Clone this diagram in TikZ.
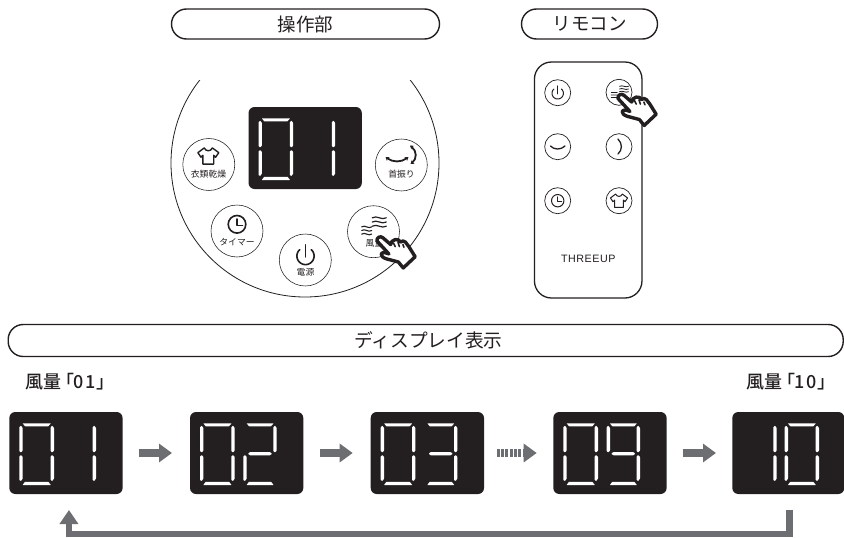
\documentclass[tikz,border=0pt]{standalone}
\usepackage{fontspec}
\setmainfont{Noto Sans CJK JP}
\newfontfamily\paltfont[RawFeature=+palt]{Noto Sans CJK JP Medium}
\newfontfamily\remfont[LetterSpace=5]{Liberation Sans}
\usetikzlibrary{arrows.meta,calc}
\definecolor{ink}{HTML}{231F20}
\definecolor{arrgray}{HTML}{6D6E71}
\newcommand{\fsz}[1]{\fontsize{#1}{#1}\selectfont}
\tikzset{
  pill/.style={draw=ink,line width=1.4pt,rounded corners=15pt,fill=white,inner sep=0pt,outer sep=0pt,text=ink,font=\fsz{18.5}},
  dispbox/.style={fill=ink,rounded corners=6pt,minimum width=113.3pt,minimum height=82pt,inner sep=0pt,outer sep=0pt,anchor=north west},
  panelbtn/.style={circle,draw=ink,line width=0.55pt,fill=white,minimum size=52pt,inner sep=0pt,outer sep=0pt},
  rembtn/.style={circle,draw=ink,line width=0.7pt,fill=white,minimum size=26pt,inner sep=0pt,outer sep=0pt},
  btnlabel/.style={text=ink,font=\fsz{8.8},inner sep=0pt},
  headlabel/.style={text=ink,font=\paltfont\fsz{18},inner sep=0pt},
  flowarrow/.style={draw=arrgray,line width=8.5pt,-{Triangle[length=13pt,width=18pt]}},
  looparrow/.style={draw=arrgray,line width=6.5pt,-{Triangle[length=14pt,width=18pt]}},
  icon/.style={draw=ink,line width=#1,line cap=round,line join=round},
  icon/.default=1.5pt,
  segfill/.style={fill=white,rounded corners=0.4pt}
}
% seven-segment pieces, #1=left x, #2=right x (relative to display corner)
\newcommand{\segA}[2]{\fill[segfill] ({#1+1.6},11.3)--({#2-1.4},11.3)--({#2-4},14.3)--({#1+4},14.3)--cycle;}
\newcommand{\segD}[2]{\fill[segfill] ({#1+1.6},73)--({#2-1.4},73)--({#2-4},69.8)--({#1+4},69.8)--cycle;}
\newcommand{\segG}[2]{\fill[segfill] ({#1+3},41.7)--({#1+5},40.1)--({#2-5},40.1)--({#2-3},41.7)--({#2-5},43.3)--({#1+5},43.3)--cycle;}
\newcommand{\segU}[1]{\fill[segfill] (#1,13.7)--({#1+1.7},16)--({#1+1.7},38.5)--(#1,40.5)--({#1-1.7},39)--({#1-1.7},15.2)--cycle;}
\newcommand{\segL}[1]{\fill[segfill] (#1,43)--({#1+1.7},45)--({#1+1.7},66.5)--(#1,69)--({#1-1.7},68)--({#1-1.7},44.5)--cycle;}
\newcommand{\digZero}[2]{\segA{#1}{#2}\segD{#1}{#2}\segU{#1}\segL{#1}\segU{#2}\segL{#2}}
\newcommand{\digOne}[1]{\segU{#1}\segL{#1}}
\newcommand{\digTwo}[2]{\segA{#1}{#2}\segD{#1}{#2}\segG{#1}{#2}\segU{#2}\segL{#1}}
\newcommand{\digThree}[2]{\segA{#1}{#2}\segD{#1}{#2}\segG{#1}{#2}\segU{#2}\segL{#2}}
\newcommand{\digNine}[2]{\segA{#1}{#2}\segD{#1}{#2}\segG{#1}{#2}\segU{#1}\segU{#2}\segL{#2}}
% icons
\newcommand{\powericon}[4]{%
  \draw[icon=#4] plot[smooth,samples=30,domain=132:408] ({#1+#3*cos(\x)},{#2-#3*sin(\x)});
  \draw[icon=#4] (#1,{#2-1.3*#3}) -- (#1,{#2+0.1*#3});}
\newcommand{\clockicon}[4]{%
  \draw[icon=#4] (#1,#2) circle[radius=#3];
  \draw[icon=#4] ({#1-0.02*#3},{#2-0.6*#3}) -- ({#1-0.02*#3},{#2+0.12*#3}) -- ({#1+0.62*#3},{#2+0.12*#3});}
\newcommand{\shirticon}[4]{%
  \draw[icon=#4,shift={(#1,#2)},scale=#3] (-4.3,-8.5) .. controls (-2.5,-4.5) and (2.5,-4.5) .. (4.3,-8.5) -- (11,-3.5) -- (7.7,1.3) -- (5.7,-0.7) -- (5.7,8.5) -- (-5.7,8.5) -- (-5.7,-0.7) -- (-7.7,1.3) -- (-11,-3.5) -- cycle;}
\newcommand{\wavelines}[6]{% cx cy w gap lw amp
  \foreach \yy in {-1,0,1}{
    \draw[icon=#5] ({#1-#3/2},{#2+\yy*#4}) .. controls ({#1-#3/6},{#2+\yy*#4-#6}) and ({#1+#3/6},{#2+\yy*#4+#6}) .. ({#1+#3/2},{#2+\yy*#4});
  }}
% hand: #1,#2 = origin; coordinates are in 1/3 px
\newcommand{\handicon}[2]{%
  \begin{scope}[shift={(#1,#2)},scale=0.35]
    \draw[draw=ink,fill=white,line width=3.4pt,line join=round,line cap=round]
      (10,50) .. controls (8,40) and (20,34) .. (27,41) -- (49,60) -- (53,51)
      .. controls (57,46) and (66,44) .. (71,47) -- (77,53) .. controls (81,49) and (87,49) .. (91,53)
      -- (101,66) -- (119,95) -- (85,127) -- (71,110) -- (37,101)
      .. controls (27,98) and (21,92) .. (22,87) .. controls (24,82) and (34,82) .. (44,87) -- cycle;
    \draw[draw=ink,line width=1.6pt,line cap=round] (57,56)--(62,66) (70,54)--(74,66) (84,60)--(87,68);
  \end{scope}}
\begin{document}
\begin{tikzpicture}[x=1pt,y=-1pt]
\useasboundingbox (0,0) rectangle (844,538);
% headers
\node[pill,minimum width=268pt,minimum height=30pt] (hdrPanel) at (305.5,24) {操作部};
\node[pill,minimum width=136pt,minimum height=30pt] (hdrRemote) at (589.5,24) {リモコン};
\begin{scope}
  \clip (0,315) rectangle (844,365);
  \node[pill,minimum width=835pt,minimum height=32pt] (hdrDisplay) at (425.7,340.5) {\hspace{0pt}};
\end{scope}
\node[text=ink,font=\fsz{18.7},inner sep=0pt] (hdrDisplayText) at (428.5,340) {ディスプレイ表示};
% panel outline
\begin{scope}
  \clip (150,80) rectangle (460,310);
  \draw[ink,line width=0.8pt] (305,163) circle[radius=134];
\end{scope}
% panel display
\node[dispbox] (dMain) at (248.5,107) {};
\begin{scope}[shift={(dMain.north west)}]
  \digZero{11.7}{43}\digOne{85}
\end{scope}
% panel buttons
\node[panelbtn] (bCloth) at (208.8,164.5) {};
\node[panelbtn] (bSwing) at (401.3,165) {};
\node[panelbtn] (bTimer) at (237,231) {};
\node[panelbtn] (bPower) at (305.3,260) {};
\node[panelbtn] (bWind) at (373.5,231.7) {};
\shirticon{208.3}{156}{0.95}{1.4pt}
\node[btnlabel] (lCloth) at (208.5,174) {衣類乾燥};
\draw[icon=1.8pt,{Stealth[length=3.5pt,width=4.5pt]}-{Stealth[length=3.5pt,width=4.5pt]}] (385.5,157) .. controls (393,162.5) and (401,162.5) .. (408.5,157);
\draw[icon=1.8pt,{Stealth[length=3.5pt,width=4.5pt]}-{Stealth[length=3.5pt,width=4.5pt]}] (410,145.5) .. controls (417,151) and (417,159) .. (410.5,164);
\node[btnlabel] (lSwing) at (401.5,174) {首振り};
\clockicon{237}{224.3}{8.8}{1.6pt}
\node[btnlabel] (lTimer) at (237,242.5) {タイマー};
\powericon{305.5}{256}{8.6}{1.6pt}
\node[btnlabel] (lPower) at (305.5,271.7) {電源};
\wavelines{366.7}{230.5}{10}{3.6}{1.1pt}{2.5}
\wavelines{379.3}{222}{14}{4.2}{1.2pt}{3}
\node[btnlabel] (lWind) at (374.5,243) {風量};
\handicon{373.5}{223.5}
% remote
\node[draw=ink,line width=1.3pt,rounded corners=17pt,minimum width=107.5pt,minimum height=236pt,inner sep=0pt,outer sep=0pt,fill=white] (remote) at (588.2,180) {};
\node[rembtn] (r1) at (557.7,92.7) {};
\node[rembtn] (r2) at (619,92.3) {};
\node[rembtn] (r3) at (557.7,146.7) {};
\node[rembtn] (r4) at (619,146.7) {};
\node[rembtn] (r5) at (557.7,200.7) {};
\node[rembtn] (r6) at (619,200.7) {};
\powericon{557.7}{93.3}{5.7}{1pt}
\wavelines{614.2}{95}{6}{2.5}{0.8pt}{1.2}
\wavelines{624}{89}{9}{2.7}{0.8pt}{1.6}
\draw[icon=1.3pt] (550.5,146) .. controls (554,150) and (561,150) .. (565,146);
\draw[icon=1.3pt] (618,139) .. controls (622.5,143.5) and (622.5,150) .. (618,154);
\clockicon{557.7}{200.7}{6.2}{1pt}
\shirticon{619}{200.7}{0.78}{1pt}
\node[text=ink,font=\remfont\fsz{10.7},inner sep=0pt] (brand) at (588.3,259) {THREEUP};
\handicon{614.5}{81}
% labels
\node[headlabel,anchor=west] (l01) at (25,382) {風量\hspace{3.5pt}「0\hspace{1.5pt}1\hspace{1pt}」};
\node[headlabel,anchor=east] (l10) at (827,382) {風量\hspace{3.5pt}「1\hspace{1.5pt}0\hspace{1pt}」};
% displays
\node[dispbox] (d1) at (9.3,412) {};
\node[dispbox] (d2) at (190,412) {};
\node[dispbox] (d3) at (370.7,412) {};
\node[dispbox] (d4) at (553.3,412) {};
\node[dispbox,minimum width=112pt] (d5) at (732.3,412) {};
\begin{scope}[shift={(d1.north west)}]\digZero{11.7}{43}\digOne{85}\end{scope}
\begin{scope}[shift={(d2.north west)}]\digZero{11.7}{43}\digTwo{55}{85}\end{scope}
\begin{scope}[shift={(d3.north west)}]\digZero{11.7}{43}\digThree{55}{85}\end{scope}
\begin{scope}[shift={(d4.north west)}]\digZero{11.7}{43}\digNine{55}{85}\end{scope}
\begin{scope}[shift={(d5.north west)}]\digOne{42.7}\digZero{54}{85}\end{scope}
% arrows
\draw[flowarrow,shorten <=16.5pt,shorten >=18pt] (d1) -- (d2);
\draw[flowarrow,shorten <=16.5pt,shorten >=18pt] (d2) -- (d3);
\draw[flowarrow,dash pattern=on 3pt off 1.3pt,shorten <=12.7pt,shorten >=16.6pt] (d3.east) -- (d4.west);
\draw[flowarrow,shorten <=16pt,shorten >=16.3pt] (d4.east) -- (d5.west);
\coordinate (loopFrom) at ($(d5.south)+(1,15.5)$);
\coordinate (loopTo) at ($(d1.south)+(3,16)$);
\draw[looparrow] (loopFrom) -- ++(0,24.7) -| (loopTo);
\end{tikzpicture}
\end{document}
